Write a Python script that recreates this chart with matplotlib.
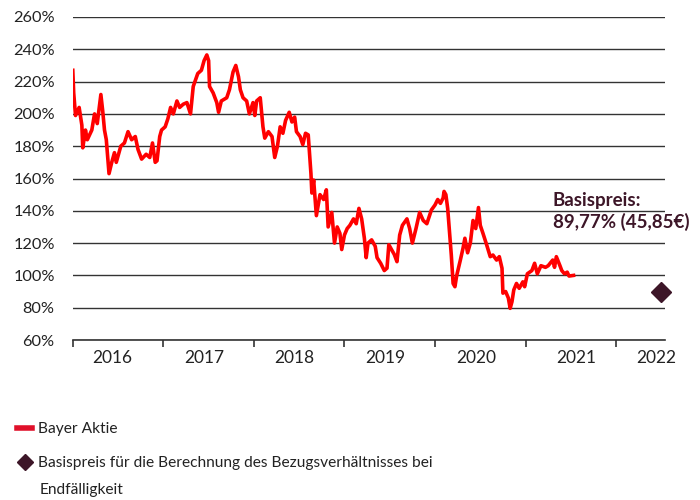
import matplotlib
matplotlib.use("Agg")
import matplotlib.pyplot as plt
from matplotlib.lines import Line2D
import numpy as np

plt.rcParams["font.family"] = ["Lato", "DejaVu Sans"]

# Bayer Aktie, Kurs in % des Basispreises (Zeit als Dezimaljahr)
t = [2016.00, 2016.01, 2016.03, 2016.07, 2016.10, 2016.11, 2016.14, 2016.16, 2016.21, 2016.24,
     2016.27, 2016.31, 2016.33, 2016.35, 2016.37, 2016.40, 2016.43, 2016.46, 2016.48, 2016.53,
     2016.57, 2016.61, 2016.65, 2016.69, 2016.72, 2016.76, 2016.81, 2016.85, 2016.88, 2016.91,
     2016.93, 2016.96, 2016.98, 2017.02, 2017.05, 2017.08, 2017.11, 2017.15, 2017.18, 2017.22,
     2017.26, 2017.30, 2017.33, 2017.38, 2017.42, 2017.45, 2017.48, 2017.50, 2017.51, 2017.55,
     2017.59, 2017.61, 2017.64, 2017.70, 2017.73, 2017.77, 2017.80, 2017.83, 2017.85, 2017.88,
     2017.92, 2017.95, 2017.99, 2018.01, 2018.03, 2018.07, 2018.10, 2018.12, 2018.16, 2018.20,
     2018.23, 2018.26, 2018.29, 2018.32, 2018.35, 2018.39, 2018.42, 2018.45, 2018.47, 2018.51,
     2018.54, 2018.57, 2018.60, 2018.63, 2018.64, 2018.66, 2018.69, 2018.73, 2018.77, 2018.80,
     2018.82, 2018.86, 2018.89, 2018.92, 2018.95, 2018.97, 2019.00, 2019.03, 2019.06, 2019.10,
     2019.13, 2019.16, 2019.19, 2019.22, 2019.24, 2019.26, 2019.30, 2019.34, 2019.36, 2019.40,
     2019.44, 2019.47, 2019.49, 2019.52, 2019.55, 2019.58, 2019.61, 2019.64, 2019.69, 2019.72,
     2019.75, 2019.79, 2019.83, 2019.87, 2019.91, 2019.96, 2020.00, 2020.03, 2020.06, 2020.09,
     2020.10, 2020.12, 2020.14, 2020.16, 2020.18, 2020.20, 2020.22, 2020.24, 2020.28, 2020.31,
     2020.33, 2020.36, 2020.39, 2020.42, 2020.45, 2020.48, 2020.50, 2020.53, 2020.57, 2020.61,
     2020.64, 2020.68, 2020.71, 2020.74, 2020.75, 2020.78, 2020.81, 2020.83, 2020.85, 2020.87,
     2020.90, 2020.93, 2020.97, 2020.99, 2021.02, 2021.07, 2021.10, 2021.13, 2021.17, 2021.22,
     2021.25, 2021.30, 2021.32, 2021.34, 2021.38, 2021.40, 2021.43, 2021.46, 2021.48, 2021.53]
kurs = [227, 213, 199, 204, 193, 179, 190, 184, 190, 200,
        194, 212, 202, 190, 184, 163, 170, 176, 170, 180,
        182, 189, 184, 186, 178, 172, 175, 173, 182, 170,
        171, 186, 190, 192, 197, 204, 200, 208, 204, 206,
        207, 200, 217, 225, 227, 233, 236.5, 233, 217, 213,
        207, 201, 208, 210, 215, 226, 230, 223, 215, 210,
        208, 200, 207, 199, 208, 210, 192, 185, 189, 186,
        173, 180, 192, 188, 196, 201, 195, 198, 189, 186,
        181, 188, 187, 163, 151, 159, 137, 150, 147, 153,
        130, 139, 120, 130, 126, 116, 125, 129, 131, 135,
        132, 141.5, 135, 123, 111, 120, 122, 118, 111, 107.5,
        103, 104.5, 119, 116, 113, 108.5, 125, 131, 135, 129,
        120, 129, 139, 134, 132, 140.5, 143.6, 147, 144.6, 148,
        152, 150, 141.5, 127, 112.6, 95, 93, 100, 109.5, 117,
        123, 114, 120, 134, 129, 142, 131, 126, 119, 111.6,
        112.6, 109.5, 111.6, 104.4, 89, 90, 86, 79.6, 83.7, 91,
        95, 92, 96, 93, 101, 103, 107.5, 101, 106, 105,
        106, 109.5, 105, 111.6, 106, 103, 101, 102, 99.6, 100]

basis_t = 2022.50
basis_wert = 89.77

jahre = [2016, 2017, 2018, 2019, 2020, 2021, 2022]
jahr_label_pos = [2016.44, 2017.45, 2018.45, 2019.45, 2020.45, 2021.56, 2022.44]
y_ticks = [60, 80, 100, 120, 140, 160, 180, 200, 220, 240, 260]

rot = "#ff0000"
bordeaux = "#3d1628"

fig = plt.figure(figsize=(7, 5), dpi=100)
ax = fig.add_axes([0.104, 0.32, 0.846, 0.646])

ax.plot(t, kurs, color=rot, lw=2.6, solid_joinstyle="round")
ax.plot([basis_t], [basis_wert], marker="D", ms=10.5, color=bordeaux, ls="none",
        clip_on=False, zorder=5)

ax.text(2021.30, 139.5, "Basispreis:\n89,77% (45,85€)", color=bordeaux,
        fontsize=13.5, fontweight="bold", ha="left", va="center", linespacing=1.3)

ax.set_xlim(2016.0, 2022.54)
ax.set_ylim(60, 260)
ax.set_yticks(y_ticks)
ax.set_yticklabels([f"{v}%" for v in y_ticks], fontsize=11.8, color="#222222")
ax.tick_params(axis="y", length=0, pad=13)
ax.yaxis.grid(True, color="#333333", lw=1.0)
ax.set_axisbelow(True)

ax.set_xticks(jahre)
ax.set_xticklabels([])
ax.set_xticks(jahr_label_pos, minor=True)
ax.set_xticklabels([str(j) for j in jahre], minor=True, fontsize=12.5, color="#222222")
ax.tick_params(axis="x", which="major", length=5, width=1.2, color="#333333", direction="out")
ax.tick_params(axis="x", which="minor", length=0, pad=7)

for s in ["top", "right", "left"]:
    ax.spines[s].set_visible(False)
ax.spines["bottom"].set_color("#333333")
ax.spines["bottom"].set_linewidth(1.2)

handles = [Line2D([], [], color="#e0102a", lw=4),
           Line2D([], [], marker="D", color=bordeaux, ms=8, ls="none")]
labels = ["Bayer Aktie", "Basispreis für die Berechnung des Bezugsverhältnisses bei"]
fig.legend(handles, labels, loc="upper left", bbox_to_anchor=(0.024, 0.155),
           frameon=False, fontsize=11.2, handlelength=1.0, handletextpad=0.39,
           labelspacing=1.25, borderaxespad=0, borderpad=0, labelcolor="#222222")
fig.text(0.056, 0.02, "Endfälligkeit", fontsize=11.2, color="#222222", va="center")

fig.savefig("out.png", dpi=100)
